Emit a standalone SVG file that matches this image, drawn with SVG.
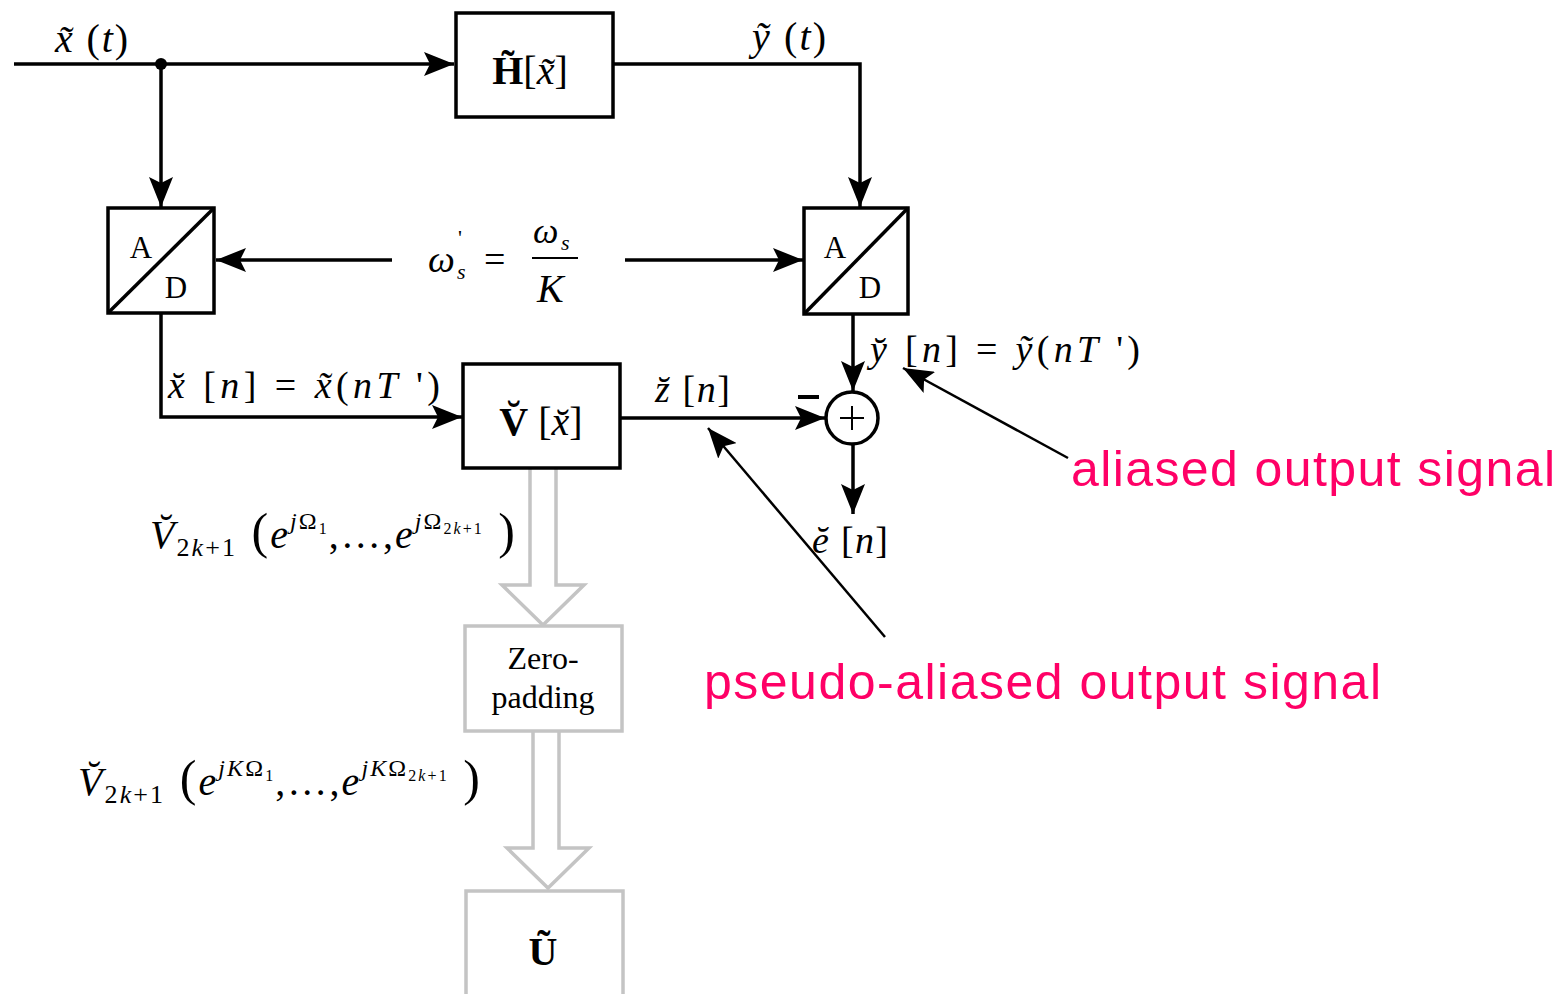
<svg xmlns="http://www.w3.org/2000/svg" width="1566" height="994" viewBox="0 0 1566 994">
<style>
.m{font-family:"Liberation Serif","DejaVu Serif",serif;fill:#000}
.i{font-style:italic}
.blk{fill:#fff;stroke:#000;stroke-width:3.5}
.gry{fill:#fff;stroke:#c4c4c4;stroke-width:3.5}
.w{fill:none;stroke:#000;stroke-width:3.5}
.thin{fill:none;stroke:#000;stroke-width:2.5}
.pink{font-family:"Liberation Sans",Arial,sans-serif;fill:#ff0066;font-size:50px}
</style>
<defs>
<marker id="ah2" viewBox="0 0 10 8" refX="10" refY="4" markerWidth="30" markerHeight="24" orient="auto" markerUnits="userSpaceOnUse">
<path d="M0,0 L10,4 L0,8 L2,4 Z" fill="#000"/>
</marker>
</defs>

<g id="connectors">
<line class="w" x1="14" y1="64" x2="454" y2="64" marker-end="url(#ah2)"/>
<circle cx="161" cy="64" r="6" fill="#000"/>
<line class="w" x1="161" y1="64" x2="161" y2="207" marker-end="url(#ah2)"/>
<polyline class="w" points="613,64 860,64 860,207" marker-end="url(#ah2)"/>
<line class="w" x1="392" y1="260" x2="216" y2="260" marker-end="url(#ah2)"/>
<line class="w" x1="625" y1="260" x2="803" y2="260" marker-end="url(#ah2)"/>
<polyline class="w" points="161,313 161,417 462,417" marker-end="url(#ah2)"/>
<line class="w" x1="620" y1="418" x2="825" y2="418" marker-end="url(#ah2)"/>
<line class="w" x1="853" y1="314" x2="853" y2="391" marker-end="url(#ah2)"/>
<line class="w" x1="853" y1="444" x2="853" y2="514" marker-end="url(#ah2)"/>
<line x1="798" y1="397" x2="819" y2="397" stroke="#000" stroke-width="4"/>
<line class="thin" x1="1068" y1="458" x2="903" y2="368" marker-end="url(#ah2)"/>
<line class="thin" x1="885" y1="637" x2="708" y2="428" marker-end="url(#ah2)"/>
<path class="gry" d="M530,468 L530,585 L502,585 L543,625 L584,585 L556,585 L556,468"/>
<path class="gry" d="M533,731 L533,848 L507,848 L548,888 L589,848 L559,848 L559,731"/>
</g>

<g id="H">
<rect class="blk" x="456" y="13" width="157" height="104"/>
<text class="m" x="530" y="84" font-size="40" text-anchor="middle"><tspan font-weight="bold">H&#x303;</tspan>[<tspan class="i">x&#x303;</tspan>]</text>
</g>

<g id="AD1">
<rect class="blk" x="108" y="208" width="106" height="105"/>
<line class="w" x1="108" y1="313" x2="214" y2="208"/>
<text class="m" x="141" y="258" font-size="31" text-anchor="middle">A</text>
<text class="m" x="176" y="298" font-size="31" text-anchor="middle">D</text>
</g>

<g id="AD2">
<rect class="blk" x="804" y="208" width="104" height="106"/>
<line class="w" x1="804" y1="314" x2="908" y2="208"/>
<text class="m" x="835" y="258" font-size="31" text-anchor="middle">A</text>
<text class="m" x="870" y="298" font-size="31" text-anchor="middle">D</text>
</g>

<g id="V">
<rect class="blk" x="463" y="364" width="157" height="104"/>
<text class="m" x="541" y="435" font-size="40" text-anchor="middle"><tspan font-weight="bold">V&#x306;</tspan> [<tspan class="i">x&#x306;</tspan>]</text>
</g>

<g id="sum">
<circle cx="852" cy="418" r="26" fill="#fff" stroke="#000" stroke-width="3.5"/>
<line x1="840" y1="418" x2="864" y2="418" stroke="#000" stroke-width="2"/>
<line x1="852" y1="406" x2="852" y2="430" stroke="#000" stroke-width="2"/>
</g>

<g id="ZP">
<rect class="gry" x="465" y="626" width="157" height="105"/>
<text class="m" x="543" y="669" font-size="32" text-anchor="middle">Zero-</text>
<text class="m" x="543" y="708" font-size="32" text-anchor="middle">padding</text>
</g>

<g id="U">
<rect class="gry" x="466" y="891" width="157" height="110"/>
<text class="m" x="543" y="965" font-size="40" text-anchor="middle" font-weight="bold">U&#x303;</text>
</g>

<g id="labels">
<text class="m" x="55" y="52" font-size="40" textLength="73" lengthAdjust="spacing"><tspan class="i">x&#x303;</tspan> (<tspan class="i">t</tspan>)</text>
<text class="m" x="752" y="50" font-size="40" textLength="74" lengthAdjust="spacing"><tspan class="i">y&#x303;</tspan> (<tspan class="i">t</tspan>)</text>
<text class="m" x="428" y="272" font-size="38"><tspan class="i">ω</tspan></text>
<text class="m" x="458" y="245" font-size="22">'</text>
<text class="m i" x="457" y="279" font-size="22">s</text>
<text class="m" x="484" y="272" font-size="38">=</text>
<line x1="532" y1="258" x2="578" y2="258" stroke="#000" stroke-width="2"/>
<text class="m i" x="533" y="243" font-size="36">ω</text>
<text class="m i" x="561" y="250" font-size="22">s</text>
<text class="m i" x="537" y="302" font-size="40">K</text>
<text class="m" x="168" y="398" font-size="38" textLength="272" lengthAdjust="spacing"><tspan class="i">x&#x306;</tspan> [<tspan class="i">n</tspan>] = <tspan class="i">x&#x303;</tspan>(<tspan class="i">nT</tspan> ')</text>
<text class="m" x="655" y="402" font-size="38" textLength="75" lengthAdjust="spacing"><tspan class="i">z&#x306;</tspan> [<tspan class="i">n</tspan>]</text>
<text class="m" x="870" y="362" font-size="38" textLength="270" lengthAdjust="spacing"><tspan class="i">y&#x306;</tspan> [<tspan class="i">n</tspan>] = <tspan class="i">y&#x303;</tspan>(<tspan class="i">nT</tspan> ')</text>
<text class="m" x="812" y="553" font-size="38" textLength="76" lengthAdjust="spacing"><tspan class="i">e&#x306;</tspan> [<tspan class="i">n</tspan>]</text>
<text class="m" x="150" y="548" font-size="40" textLength="365" lengthAdjust="spacing"><tspan class="i">V&#x306;</tspan><tspan font-size="26" dy="8">2<tspan class="i">k</tspan>+1</tspan><tspan dy="-8" font-size="50"> (</tspan><tspan class="i">e</tspan><tspan font-size="24" dy="-19"><tspan class="i">j</tspan>Ω<tspan font-size="16" dy="5">1</tspan></tspan><tspan dy="14">,…,</tspan><tspan class="i">e</tspan><tspan font-size="24" dy="-19"><tspan class="i">j</tspan>Ω<tspan font-size="16" dy="5">2<tspan class="i">k</tspan>+1</tspan></tspan><tspan dy="14" font-size="50"> )</tspan></text>
<text class="m" x="78" y="795" font-size="40" textLength="402" lengthAdjust="spacing"><tspan class="i">V&#x306;</tspan><tspan font-size="26" dy="8">2<tspan class="i">k</tspan>+1</tspan><tspan dy="-8" font-size="50"> (</tspan><tspan class="i">e</tspan><tspan font-size="24" dy="-19"><tspan class="i">jK</tspan>Ω<tspan font-size="16" dy="5">1</tspan></tspan><tspan dy="14">,…,</tspan><tspan class="i">e</tspan><tspan font-size="24" dy="-19"><tspan class="i">jK</tspan>Ω<tspan font-size="16" dy="5">2<tspan class="i">k</tspan>+1</tspan></tspan><tspan dy="14" font-size="50"> )</tspan></text>
<text class="pink" x="1071" y="486" textLength="484">aliased output signal</text>
<text class="pink" x="704" y="699" textLength="677">pseudo-aliased output signal</text>
</g>
</svg>
